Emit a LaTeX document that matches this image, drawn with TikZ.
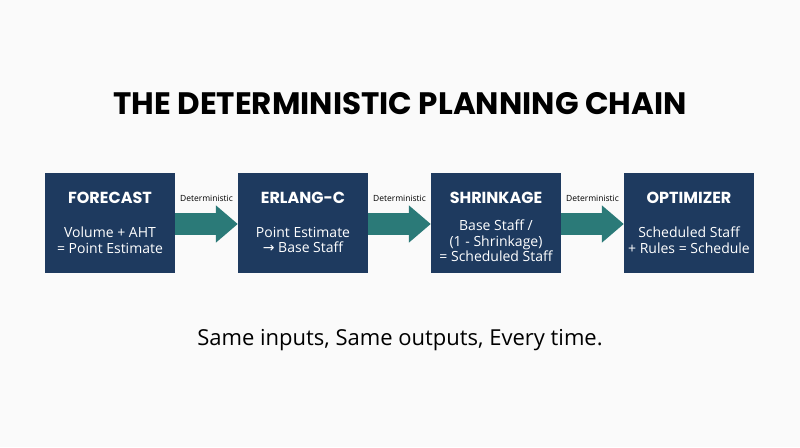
\documentclass[tikz,border=0pt]{standalone}
\usepackage{fontspec}
\setmainfont{Open Sans}
\newfontfamily\headfont{Poppins}
\usetikzlibrary{arrows.meta,positioning,calc}
\definecolor{stepnavy}{HTML}{1E3A5F}
\definecolor{flowteal}{HTML}{2B7A78}
\definecolor{pagegrey}{HTML}{FAFAFA}
\tikzset{
  stagebox/.style={fill=stepnavy, draw=none, minimum width=130pt, minimum height=100pt, inner sep=0pt},
  stagetitle/.style={text=white, font=\headfont\fontsize{16}{18}\selectfont\bfseries},
  stagebody/.style={text=white, align=center, font=\fontsize{14}{15.5}\selectfont},
  flowarrow/.style={draw=flowteal, line width=22pt, -{Triangle[length=22pt,width=36pt]}},
  flowlabel/.style={font=\fontsize{8.5}{10}\selectfont, text=black}
}
\begin{document}
\begin{tikzpicture}[x=1pt, y=-1pt]
\useasboundingbox[fill=pagegrey] (0,0) rectangle (800,447);
% title
\node[font=\headfont\fontsize{31}{34}\selectfont\bfseries] (title) at (400,104) {THE DETERMINISTIC PLANNING CHAIN};
% stages
\node[stagebox] (forecast) at (110,223) {};
\node[stagebox] (erlang) at (303,223) {};
\node[stagebox] (shrink) at (496,223) {};
\node[stagebox] (optim) at (689,223) {};
\foreach \s/\t in {forecast/FORECAST, erlang/ERLANG-C, shrink/SHRINKAGE, optim/OPTIMIZER}
  \node[stagetitle] (\s-title) at ([yshift=25pt]\s.center) {\t};
\node[stagebody] (forecast-body) at ([yshift=-17pt]forecast.center) {Volume + AHT\\= Point Estimate};
\node[stagebody] (erlang-body) at ([yshift=-17pt]erlang.center) {Point Estimate\\{\fontspec{DejaVu Sans}→} Base Staff};
\node[stagebody] (shrink-body) at ([yshift=-18pt]shrink.center) {Base Staff /\\(1 - Shrinkage)\\= Scheduled Staff};
\node[stagebody] (optim-body) at ([yshift=-17pt]optim.center) {Scheduled Staff\\+ Rules = Schedule};
% arrows
\foreach \a/\b in {forecast/erlang, erlang/shrink, shrink/optim} {
  \draw[flowarrow] ([yshift=-1pt]\a.east) -- ([yshift=-1pt]\b.west);
  \node[flowlabel] (\a-label) at ($(\a.east)!0.5!(\b.west)+(0,-25)$) {Deterministic};
}
% closing line
\node[font=\fontsize{22}{25}\selectfont] (motto) at (400,340) {Same inputs, Same outputs, Every time.};
\end{tikzpicture}
\end{document}
